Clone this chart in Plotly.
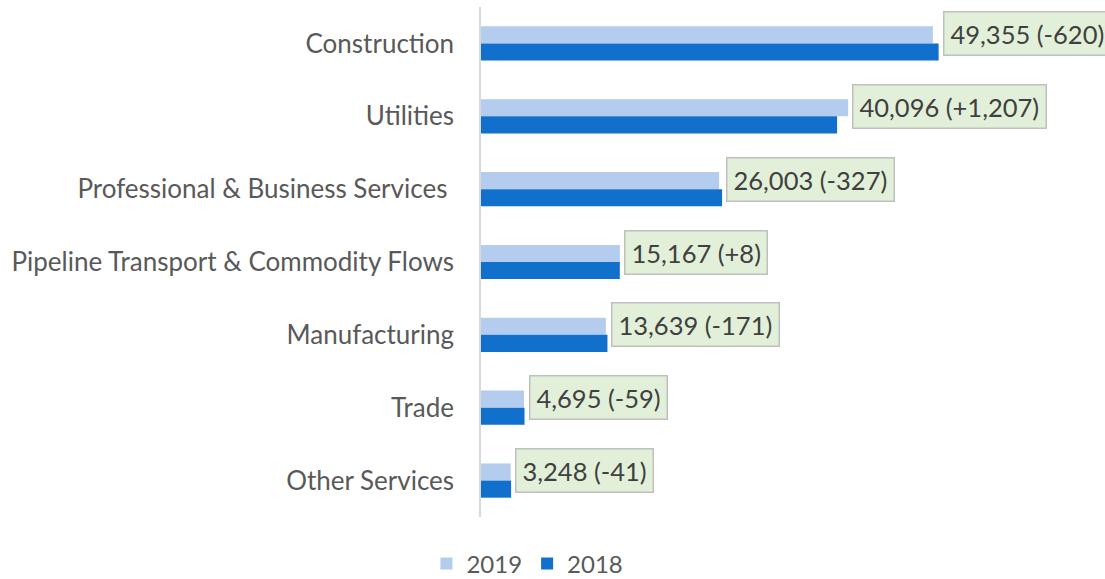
import plotly.graph_objects as go

categories = ["Construction", "Utilities", "Professional & Business Services ",
              "Pipeline Transport & Commodity Flows", "Manufacturing", "Trade", "Other Services"]
values_2019 = [49355, 40096, 26003, 15167, 13639, 4695, 3248]
changes = [-620, 1207, -327, 8, -171, -59, -41]
values_2018 = [v - c for v, c in zip(values_2019, changes)]

FONT = "Lato"

fig = go.Figure()
fig.add_trace(go.Bar(y=categories, x=values_2019, name="2019", orientation="h",
                     marker=dict(color="#B4CDEE", line=dict(width=0))))
fig.add_trace(go.Bar(y=categories, x=values_2018, name="2018", orientation="h",
                     marker=dict(color="#1170CC", line=dict(width=0))))

for cat, v19, v18, ch in zip(categories, values_2019, values_2018, changes):
    fig.add_annotation(x=max(v19, v18), y=cat, xref="x", yref="y",
                       text=f"{v19:,} ({ch:+,})", showarrow=False,
                       xanchor="left", yanchor="middle", xshift=4, yshift=10,
                       font=dict(size=25.5, color="#404040", family=FONT),
                       bgcolor="#E2F0D9", bordercolor="#BFBFBF", borderwidth=1.5,
                       borderpad=6)

fig.update_layout(
    template="none",
    width=1105, height=579,
    margin=dict(l=481, r=5, t=7, b=62, autoexpand=False),
    plot_bgcolor="white", paper_bgcolor="white",
    barmode="group", bargap=0.53, bargroupgap=0,
    font=dict(family=FONT, size=26, color="#595959"),
    legend=dict(orientation="h", x=0.075, xanchor="center", y=-0.092, yanchor="middle",
                font=dict(size=24, color="#595959", family=FONT), traceorder="normal",
                itemwidth=30),
    xaxis=dict(range=[0, 67600], showgrid=False, showticklabels=False, zeroline=False,
               showline=False, ticks="", automargin=False),
    yaxis=dict(autorange="reversed", showline=True, linecolor="#D9D9D9", linewidth=1.5,
               ticks="", ticksuffix="   ", showgrid=False, automargin=False,
               tickfont=dict(size=26, color="#595959", family=FONT)),
)

fig.write_html("out.html", config={"displayModeBar": False},
               post_script="document.body.style.margin='0px';")
